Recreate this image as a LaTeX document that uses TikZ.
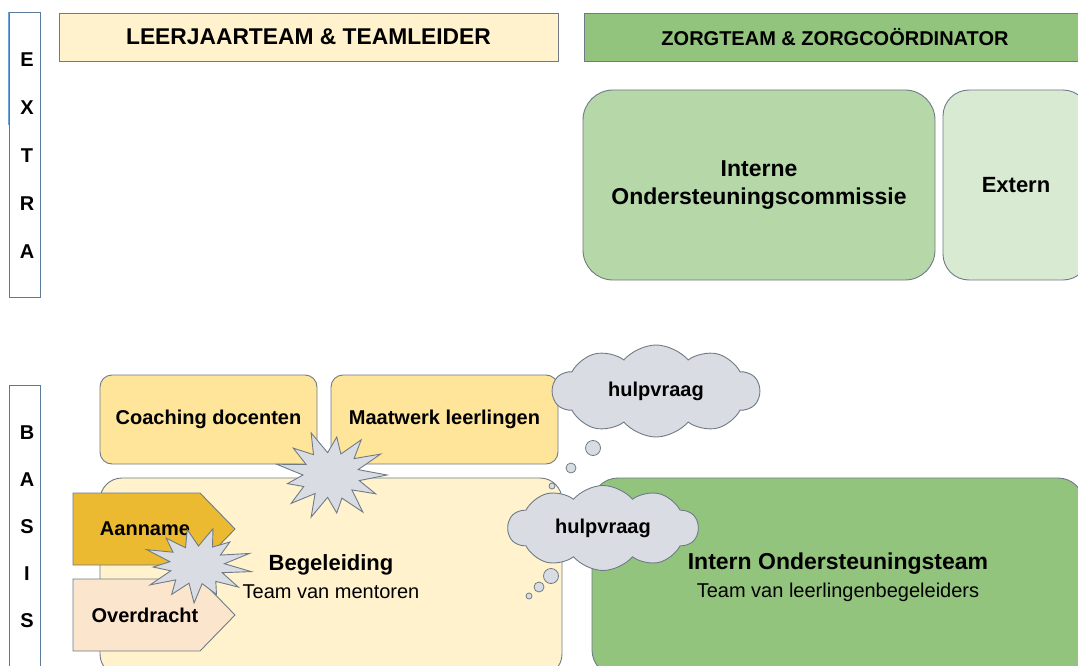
\documentclass[tikz,border=0pt]{standalone}
\usepackage{fontspec}
\setmainfont{Liberation Sans}
\usetikzlibrary{positioning}
\usetikzlibrary{shapes.symbols}

\definecolor{lijn}{HTML}{6E7B86}
\definecolor{balklijn}{HTML}{5B7A99}
\definecolor{geelLicht}{HTML}{FFF2CC}
\definecolor{geel}{HTML}{FFE599}
\definecolor{geelDonker}{HTML}{ECBA30}
\definecolor{perzik}{HTML}{FCE5CD}
\definecolor{groen}{HTML}{93C47D}
\definecolor{groenMidden}{HTML}{B6D7A8}
\definecolor{groenLicht}{HTML}{D9EAD3}
\definecolor{wolk}{HTML}{D9DDE3}

\tikzset{
  kop/.style={draw=lijn, line width=0.9pt, inner sep=0pt, outer sep=0pt},
  blok/.style={draw=lijn, line width=0.9pt, rounded corners=#1, align=center,
    inner sep=0pt, outer sep=0pt, font=\fontsize{20}{28}\selectfont},
  balk/.style={draw=balklijn, line width=0.9pt, fill=white, inner sep=0pt},
  letter/.style={font=\fontsize{20}{24}\selectfont\bfseries},
  pijlvorm/.style={draw=lijn, line width=0.9pt, line join=miter},
  pijltekst/.style={inner sep=0pt, font=\fontsize{20}{24}\selectfont\bfseries},
  ster/.style={fill=wolk, draw=lijn, line width=0.9pt, line join=miter},
  wolkje/.style={cloud, cloud puffs=10, cloud puff arc=100, cloud ignores aspect, fill=wolk,
    draw=lijn, line width=0.9pt, inner sep=0pt, font=\fontsize{20}{24}\selectfont\bfseries},
  bel/.style={circle, fill=wolk, draw=lijn, line width=0.8pt, inner sep=0pt}
}

\begin{document}
\begin{tikzpicture}[x=1pt, y=-1pt]
\useasboundingbox (0,0) rectangle (1078,666);
\clip (0,0) rectangle (1078,666);
\fill[white] (0,0) rectangle (1078,666);

% koppen
\node[kop, fill=geelLicht, minimum width=499pt, minimum height=48pt,
  font=\fontsize{22.8}{26}\selectfont\bfseries] (leerjaar) at (308.5,37) {LEERJAARTEAM \& TEAMLEIDER};
\node[kop, fill=groen, minimum width=502pt, minimum height=48pt,
  font=\fontsize{20}{24}\selectfont\bfseries] (zorgteam) at (835,37) {ZORGTEAM \& ZORGCO\"ORDINATOR};

% extra
\node[blok=30pt, fill=groenMidden, minimum width=352pt, minimum height=190pt,
  font=\fontsize{23}{28}\selectfont\bfseries] (commissie) at (759,185) {Interne\\Ondersteuningscommissie};
\node[blok=26pt, fill=groenLicht, minimum width=146pt, minimum height=190pt,
  font=\fontsize{22}{28}\selectfont\bfseries] (extern) at (1016,185) {Extern};

% basis
\node[blok=12pt, fill=geel, minimum width=217pt, minimum height=89pt,
  font=\fontsize{20}{24}\selectfont\bfseries] (coaching) at (208.5,419.5) {Coaching docenten};
\node[blok=12pt, fill=geel, minimum width=227pt, minimum height=89pt,
  font=\fontsize{20}{24}\selectfont\bfseries] (maatwerk) at (444.5,419.5) {Maatwerk leerlingen};
\node[blok=22pt, fill=geelLicht, minimum width=462pt, minimum height=198pt] (begeleiding) at (331,577)
  {{\fontsize{22}{28}\selectfont\bfseries Begeleiding}\\Team van mentoren};
\node[blok=26pt, fill=groen, minimum width=492pt, minimum height=198pt] (team) at (838,577)
  {{\fontsize{23}{28}\selectfont\bfseries Intern Ondersteuningsteam}\\Team van leerlingenbegeleiders};

% aanname en overdracht
\draw[pijlvorm, fill=geelDonker] (73,493) -- (200,493) -- (235,529) -- (200,565) -- (73,565) -- cycle;
\node[pijltekst] (aanname) at (145,529) {Aanname};
\draw[pijlvorm, fill=perzik] (73,579) -- (200,579) -- (235,615) -- (200,651) -- (73,651) -- cycle;
\node[pijltekst] (overdracht) at (145,615) {Overdracht};

% botsingen
\coordinate (botsing1) at (331,475);
\coordinate (botsing2) at (197,565);
\begin{scope}[shift={(botsing1)}]
  \draw[ster] (0:56 and 45) \foreach \f [count=\k] in
    {.52,.9,.5,1,.55,.85,.5,1,.5,.95,.55,.8,.5,1,.5,.9,.55,1,.5,.85,.5,.95,.55,1,.5}
    { -- ({\k*360/26}:{56*\f} and {45*\f}) } -- cycle;
\end{scope}
\begin{scope}[shift={(botsing2)}]
  \draw[ster] (10:55 and 38) \foreach \f [count=\k] in
    {.5,.95,.55,.85,.5,1,.5,.9,.55,1,.5,.8,.5,1,.55,.9,.5,.95,.5,1,.55,.85,.5,1,.5}
    { -- ({10+\k*360/26}:{55*\f} and {38*\f}) } -- cycle;
\end{scope}

% hulpvragen
\node[wolkje, minimum width=207pt, minimum height=92pt] (vraag1) at (656,391) {hulpvraag};
\node[wolkje, minimum width=190pt, minimum height=85pt] (vraag2) at (603,528) {hulpvraag};
\node[bel, minimum size=15pt] (bel1) at (593,448) {};
\node[bel, minimum size=10pt] (bel2) at (571,468) {};
\node[bel, minimum size=6pt] (bel3) at (552,486) {};
\node[bel, minimum size=15pt] (bel4) at (551,576) {};
\node[bel, minimum size=10pt] (bel5) at (539,587) {};
\node[bel, minimum size=6pt] (bel6) at (529,596) {};

% zijbalken
\node[balk, minimum width=31pt, minimum height=285pt] (extra) at (24.5,154.5) {};
\draw[cyan!60!blue!60, line width=1.2pt] (extra.north west) -- ++(0,113);
\foreach \letter [count=\i] in {E,X,T,R,A}
  \node[letter] (extra-\i) at (27,{60+47.8*(\i-1)}) {\letter};
\node[balk, minimum width=31pt, minimum height=300pt, anchor=north] (basis) at (24.5,385) {};
\foreach \letter [count=\i] in {B,A,S,I,S}
  \node[letter] (basis-\i) at (27,{433+47*(\i-1)}) {\letter};
\end{tikzpicture}
\end{document}
